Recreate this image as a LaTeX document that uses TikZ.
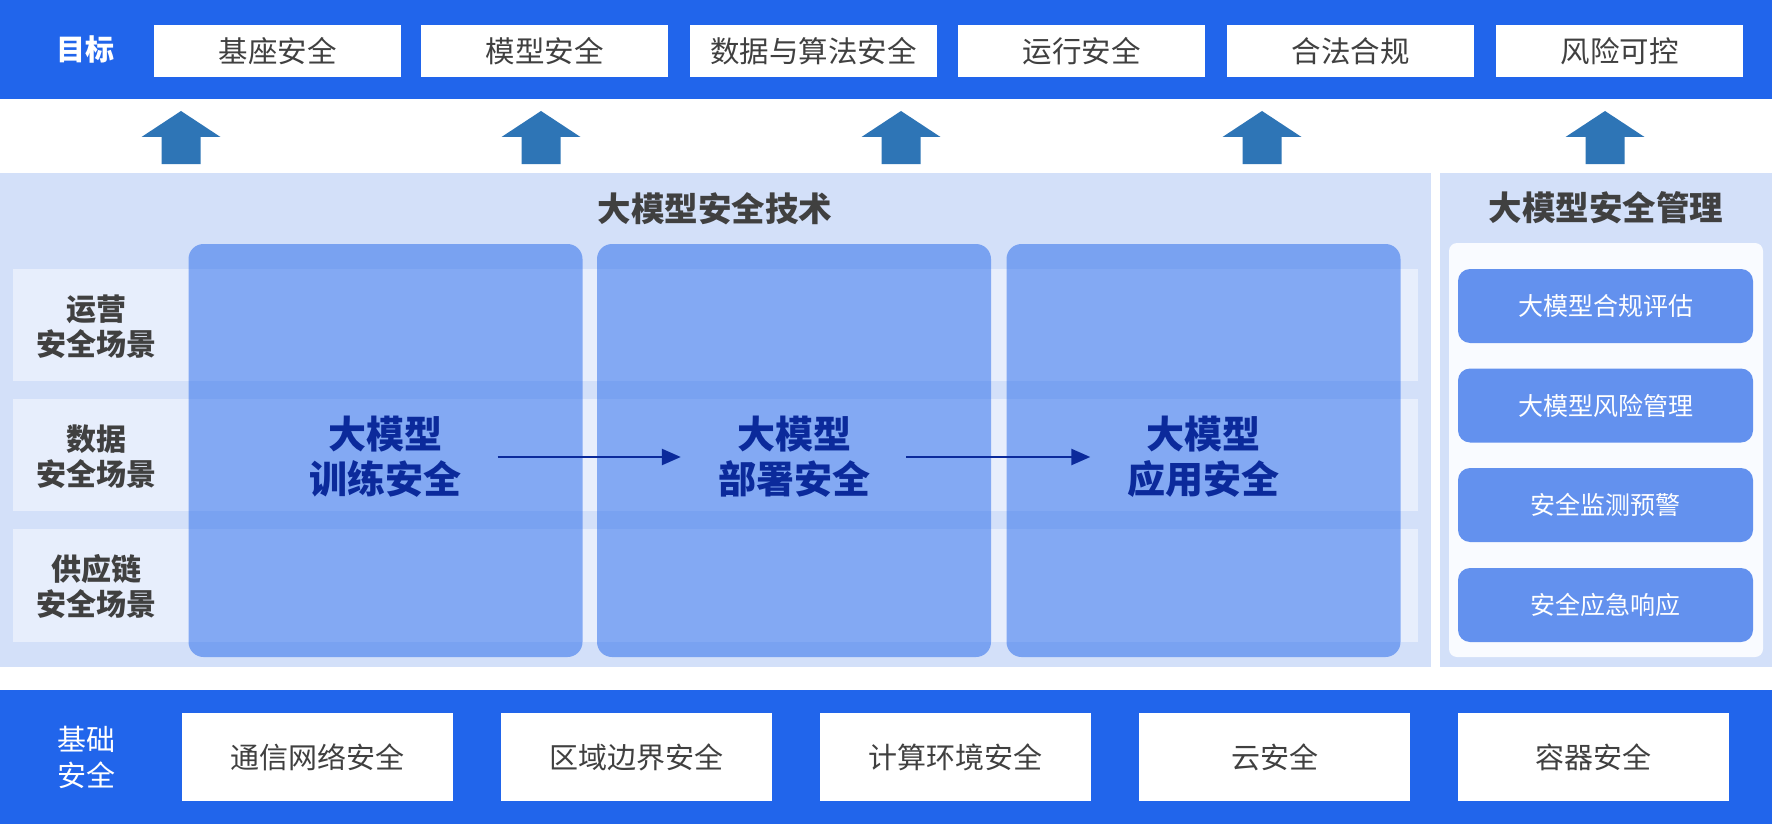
\documentclass[tikz,border=0pt]{standalone}
\usepackage{fontspec}
\setmainfont{Noto Sans CJK SC}
\usetikzlibrary{arrows.meta}
\definecolor{topblue}{HTML}{2165EB}
\definecolor{uparrow}{HTML}{2E75B6}
\definecolor{panel}{HTML}{D3E0F9}
\definecolor{strip}{HTML}{E7EEFC}
\definecolor{inner}{HTML}{F9FBFF}
\definecolor{mgmt}{HTML}{6391EE}
\definecolor{txtgray}{HTML}{404040}
\definecolor{navy}{HTML}{0B2A9B}
\tikzset{
  goalbox/.style={fill=white, minimum width=247pt, minimum height=52pt, inner sep=0pt, text=txtgray, font=\fontsize{29.5}{34}\selectfont},
  basebox/.style={fill=white, minimum width=271pt, minimum height=88pt, inner sep=0pt, text=txtgray, font=\fontsize{29}{34}\selectfont},
  stagebox/.style={fill=topblue, fill opacity=0.5, rounded corners=15pt, minimum width=394pt, minimum height=413pt, inner sep=0pt},
  stagelabel/.style={text=navy, align=center, inner sep=0pt, font=\fontsize{38}{45}\selectfont\bfseries},
  striplabel/.style={text=txtgray, align=center, inner sep=0pt, font=\fontsize{30}{35}\selectfont\bfseries},
  mgmtbox/.style={fill=mgmt, rounded corners=12pt, minimum width=295pt, minimum height=74pt, inner sep=0pt, text=white, font=\fontsize{25}{30}\selectfont},
  titlelabel/.style={text=txtgray, inner sep=0pt, font=\fontsize{33.5}{40}\selectfont\bfseries},
  sidelabel/.style={text=white, align=center, inner sep=0pt},
  flow/.style={draw=navy, line width=2.5pt, -{Triangle[length=19pt,width=16pt]}, shorten <=36pt, shorten >=37pt},
  uparr/.style={fill=uparrow}
}
\newcommand{\uparrowat}[1]{\fill[uparr] (#1-19.5,164) -- (#1-19.5,137) -- (#1-39.5,137) -- (#1,111) -- (#1+39.5,137) -- (#1+19.5,137) -- (#1+19.5,164) -- cycle;}
\begin{document}
\begin{tikzpicture}[x=1pt,y=-1pt]
\useasboundingbox (0,0) rectangle (1772,824);
\fill[white] (0,0) rectangle (1772,824);
% top band
\fill[topblue] (0,0) rectangle (1772,99.5);
\node[sidelabel, font=\fontsize{29}{34}\selectfont\bfseries] (goal) at (85,49) {目标};
\node[goalbox] (g1) at (277.5,51) {基座安全};
\node[goalbox] (g2) at (544.5,51) {模型安全};
\node[goalbox] (g3) at (813.5,51) {数据与算法安全};
\node[goalbox] (g4) at (1081.5,51) {运行安全};
\node[goalbox] (g5) at (1350.5,51) {合法合规};
\node[goalbox] (g6) at (1619.5,51) {风险可控};
% up arrows
\uparrowat{181}
\uparrowat{541}
\uparrowat{901}
\uparrowat{1262}
\uparrowat{1605}
% panels
\fill[panel] (0,173) rectangle (1431,667);
\fill[panel] (1440,173) rectangle (1772,667);
\node[titlelabel] (ttech) at (715,209) {大模型安全技术};
\node[titlelabel] (tmgmt) at (1606,208) {大模型安全管理};
% strips
\fill[strip] (13,269) rectangle (1418,381);
\fill[strip] (13,399) rectangle (1418,511);
\fill[strip] (13,529) rectangle (1418,642);
\node[striplabel] (r1) at (96,327) {运营\\安全场景};
\node[striplabel] (r2) at (96,457) {数据\\安全场景};
\node[striplabel] (r3) at (96,587) {供应链\\安全场景};
% stage boxes
\node[stagebox] (s1) at (385.5,450.5) {};
\node[stagebox] (s2) at (794,450.5) {};
\node[stagebox] (s3) at (1203.5,450.5) {};
\node[stagelabel] (l1) at (385.5,457) {大模型\\训练安全};
\node[stagelabel] (l2) at (794,457) {大模型\\部署安全};
\node[stagelabel] (l3) at (1203.5,457) {大模型\\应用安全};
\draw[flow] (l1.east) -- (l2.west);
\draw[flow] (l2.east) -- (l3.west);
% management
\fill[inner, rounded corners=8pt] (1449,243) rectangle (1763,657);
\node[mgmtbox] (m1) at (1605.5,306) {大模型合规评估};
\node[mgmtbox] (m2) at (1605.5,405.5) {大模型风险管理};
\node[mgmtbox] (m3) at (1605.5,505) {安全监测预警};
\node[mgmtbox] (m4) at (1605.5,605) {安全应急响应};
% bottom band
\fill[topblue] (0,690) rectangle (1772,824);
\node[sidelabel, font=\fontsize{29}{36}\selectfont] (base) at (86,757) {基础\\安全};
\node[basebox] (b1) at (317.5,757) {通信网络安全};
\node[basebox] (b2) at (636.5,757) {区域边界安全};
\node[basebox] (b3) at (955.5,757) {计算环境安全};
\node[basebox] (b4) at (1274.5,757) {云安全};
\node[basebox] (b5) at (1593.5,757) {容器安全};
\end{tikzpicture}
\end{document}
